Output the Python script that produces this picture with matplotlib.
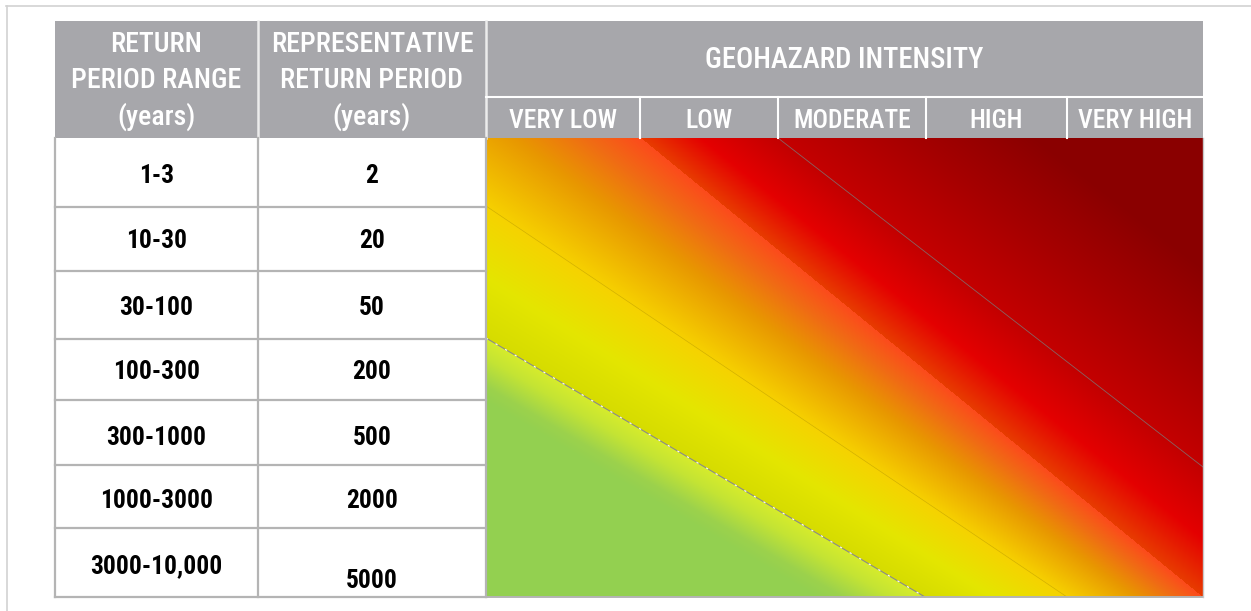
import numpy as np
import matplotlib.pyplot as plt
from matplotlib import font_manager
from matplotlib.colors import to_rgb
from matplotlib.patches import Rectangle

# table content
range_labels = ['1-3', '10-30', '30-100', '100-300', '300-1000', '1000-3000', '3000-10,000']
rep_periods = ['2', '20', '50', '200', '500', '2000', '5000']
intensity_labels = ['VERY LOW', 'LOW', 'MODERATE', 'HIGH', 'VERY HIGH']
header_col1 = ['RETURN', 'PERIOD RANGE', '(years)']
header_col2 = ['REPRESENTATIVE', 'RETURN PERIOD', '(years)']
header_main = 'GEOHAZARD INTENSITY'

# layout (pixels, y pointing down)
W, H = 1251, 611
col_x = [55, 258, 486]
grid_x = [486, 640, 778, 926, 1067, 1203]
head_top, sub_top, head_bot = 21, 97, 138
row_y = [138, 207, 271, 339, 400, 465, 528, 597]
row_base = [183, 248, 315, 379, 445, 508, 573]
rep_base = [183, 248, 315, 379, 445, 508, 588]
head_base = [52, 88, 125]

# band boundaries of the colour field, lower-left to upper-right
band_lines = {
    'A': ((486, 338), (925, 597)),
    'D': ((486, 206), (1067, 597)),
    'B': ((641, 138), (1203, 597)),
    'C': ((778, 138), (1203, 467)),
}
# colour ramps inside each band
green_stops = [(0, '#d6ec2c'), (20, '#c4e434'), (48, '#9cd24c'), (62, '#94d050'), (1000, '#92d050')]
yellow_stops = [(0, '#d6dc00'), (0.45, '#e4e600'), (1, '#f6d200')]
orange_stops = [(0, '#f6d000'), (0.45, '#e89800'), (0.75, '#f06c14'), (1, '#fc4a1c')]
red_stops = [(0, '#e83c00'), (0.45, '#e40000'), (1, '#c20000')]
dark_stops = [(0, '#c40000'), (100, '#a60000'), (200, '#8a0000'), (1000, '#8a0000')]

grey_head = '#a7a7ab'
grid_col = '#b4b4b4'

# narrow face like the original; scale factor k keeps text widths close
narrow = {'Liberation Sans Narrow': 1.0, 'Arial Narrow': 1.0, 'Roboto Condensed': 1.03,
          'Archivo Narrow': 1.0, 'PT Sans Narrow': 1.0}
names = {f.name for f in font_manager.fontManager.ttflist}
fam, k = 'Liberation Sans', 0.82
for nm, kk in narrow.items():
    if nm in names:
        fam, k = nm, kk
        break


def line_y(key, x):
    (x1, y1), (x2, y2) = band_lines[key]
    return y1 + (x - x1) * (y2 - y1) / (x2 - x1)


def ramp(t, stops):
    pos = [s[0] for s in stops]
    cols = np.array([to_rgb(s[1]) for s in stops])
    return np.stack([np.interp(t, pos, cols[:, i]) for i in range(3)], axis=-1)


fig = plt.figure(figsize=(W / 100, H / 100), dpi=100)
ax = fig.add_axes([0, 0, 1, 1])
ax.set_xlim(0, W)
ax.set_ylim(H, 0)
ax.axis('off')

# colour field
xs = np.arange(grid_x[0], grid_x[-1]) + 0.5
ys = np.arange(head_bot, row_y[-1]) + 0.5
X, Y = np.meshgrid(xs, ys)
yA, yD, yB, yC = (line_y(key, X) for key in 'ADBC')
img = np.zeros(X.shape + (3,))

m = Y > yA
img[m] = ramp((Y - yA)[m], green_stops)
m = (Y <= yA) & (Y > yD)
img[m] = ramp(((yA - Y) / (yA - yD))[m], yellow_stops)
m = (Y <= yD) & (Y > yB)
img[m] = ramp(((yD - Y) / (yD - yB))[m], orange_stops)
m = (Y <= yB) & (Y > yC)
img[m] = ramp(((yB - Y) / (yB - yC))[m], red_stops)
m = Y <= yC
img[m] = ramp((yC - Y)[m], dark_stops)

ax.imshow(img, extent=(grid_x[0], grid_x[-1], row_y[-1], head_bot),
          interpolation='bilinear', aspect='auto', zorder=1)

# thin lines between bands
(xa1, ya1), (xa2, ya2) = band_lines['A']
ax.plot([xa1, xa2], [ya1, ya2], color='#8a8a8a', lw=0.8, zorder=2)
ax.plot([xa1, xa2], [ya1, ya2], color='white', lw=0.8, dashes=(2, 8), zorder=2)
(xd1, yd1), (xd2, yd2) = band_lines['D']
ax.plot([xd1, xd2], [yd1, yd2], color='#b09000', lw=0.5, alpha=0.5, zorder=2)
(xc1, yc1), (xc2, yc2) = band_lines['C']
ax.plot([xc1, xc2], [yc1, yc2], color='#7a7a7a', lw=0.6, alpha=0.8, zorder=2)

# outer frame (partial, as in the source)
ax.plot([6, W], [6, 6], color='#d2d2d2', lw=1.2)
ax.plot([7, 7], [6, H], color='#d2d2d2', lw=1.2)

# header block
ax.add_patch(Rectangle((col_x[0], head_top), grid_x[-1] - col_x[0], head_bot - head_top,
                       facecolor=grey_head, edgecolor='none', zorder=1))
for x in col_x[1:]:
    ax.plot([x, x], [head_top, head_bot], color='#ececec', lw=1.8, zorder=3)
ax.plot([grid_x[0], grid_x[-1]], [sub_top, sub_top], color='white', lw=1.5, zorder=3)
for x in grid_x[1:-1]:
    ax.plot([x, x], [sub_top, head_bot], color='white', lw=1.5, zorder=3)

head_kw = dict(color='white', family=fam, fontweight='medium', ha='center',
               va='baseline', zorder=4)
cx1 = (col_x[0] + col_x[1]) / 2
cx2 = (col_x[1] + col_x[2]) / 2
for txt, yb in zip(header_col1, head_base):
    ax.text(cx1, yb, txt, fontsize=19.5 * k, **head_kw)
for txt, yb in zip(header_col2, head_base):
    ax.text(cx2, yb, txt, fontsize=19.5 * k, **head_kw)
ax.text((grid_x[0] + grid_x[-1]) / 2, 68, header_main, fontsize=20 * k, **head_kw)
for i, lab in enumerate(intensity_labels):
    ax.text((grid_x[i] + grid_x[i + 1]) / 2, 128, lab, fontsize=18 * k, **head_kw)

# body grid
for y in row_y[1:]:
    ax.plot([col_x[0], col_x[-1]], [y, y], color=grid_col, lw=1.6, zorder=3)
ax.plot([col_x[-1], grid_x[-1]], [row_y[-1], row_y[-1]], color=grid_col, lw=1.4, zorder=3)
for x in col_x:
    ax.plot([x, x], [head_bot, row_y[-1]], color=grid_col, lw=1.6, zorder=3)
ax.plot([grid_x[-1], grid_x[-1]], [head_bot, row_y[-1]], color='#c8c8c8', lw=1.0, zorder=3)

body_kw = dict(color='black', family=fam, fontweight='bold', ha='center',
               va='baseline', fontsize=17.8 * k, zorder=4)
for lab, yb in zip(range_labels, row_base):
    ax.text(cx1, yb, lab, **body_kw)
for lab, yb in zip(rep_periods, rep_base):
    ax.text(cx2, yb, lab, **body_kw)

fig.savefig('out.png', dpi=100, facecolor='white')
